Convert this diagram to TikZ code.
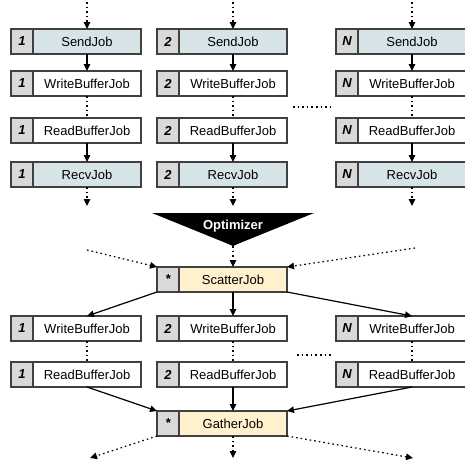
\documentclass[tikz,border=0pt]{standalone}
\usepackage{fontspec}
\setmainfont{Liberation Sans}
\usetikzlibrary{arrows.meta}

\definecolor{jobblue}{RGB}{214,228,232}
\definecolor{idgray}{RGB}{217,217,217}
\definecolor{jobcream}{RGB}{255,241,206}
\definecolor{edgegray}{RGB}{64,64,64}

\tikzset{every picture/.style={line width=1.2pt}}
\tikzset{
	idbox/.style={draw=edgegray, fill=idgray, minimum width=22pt, minimum height=25pt, inner sep=0pt, outer sep=0pt, anchor=north west, font=\fontsize{13}{15}\selectfont\bfseries\itshape},
	jobbox/.style={draw=edgegray, fill=white, minimum width=108pt, minimum height=25pt, inner sep=0pt, outer sep=0pt, anchor=north west, font=\fontsize{13}{15}\selectfont},
	flow/.style={-{Triangle[length=7pt,width=6.5pt]}},
	dots/.style={dash pattern={on 1.6pt off 3pt}},
}

\begin{document}
\begin{tikzpicture}[x=1pt,y=1pt,yscale=-1]
	\useasboundingbox (0,0) rectangle (465,459);
	
	% Jobs before the optimizer
	\draw (11,29) node [idbox] (send1id) {1};
	\draw (send1id.north east) node [jobbox, fill=jobblue] (send1) {SendJob};
	\draw (11,71) node [idbox] (wbuf1id) {1};
	\draw (wbuf1id.north east) node [jobbox] (wbuf1) {WriteBufferJob};
	\draw (11,118) node [idbox] (rbuf1id) {1};
	\draw (rbuf1id.north east) node [jobbox] (rbuf1) {ReadBufferJob};
	\draw (11,162) node [idbox] (recv1id) {1};
	\draw (recv1id.north east) node [jobbox, fill=jobblue] (recv1) {RecvJob};
	
	\draw (157,29) node [idbox] (send2id) {2};
	\draw (send2id.north east) node [jobbox, fill=jobblue] (send2) {SendJob};
	\draw (157,71) node [idbox] (wbuf2id) {2};
	\draw (wbuf2id.north east) node [jobbox] (wbuf2) {WriteBufferJob};
	\draw (157,118) node [idbox] (rbuf2id) {2};
	\draw (rbuf2id.north east) node [jobbox] (rbuf2) {ReadBufferJob};
	\draw (157,162) node [idbox] (recv2id) {2};
	\draw (recv2id.north east) node [jobbox, fill=jobblue] (recv2) {RecvJob};
	
	\draw (336,29) node [idbox] (sendNid) {N};
	\draw (sendNid.north east) node [jobbox, fill=jobblue] (sendN) {SendJob};
	\draw (336,71) node [idbox] (wbufNid) {N};
	\draw (wbufNid.north east) node [jobbox] (wbufN) {WriteBufferJob};
	\draw (336,118) node [idbox] (rbufNid) {N};
	\draw (rbufNid.north east) node [jobbox] (rbufN) {ReadBufferJob};
	\draw (336,162) node [idbox] (recvNid) {N};
	\draw (recvNid.north east) node [jobbox, fill=jobblue] (recvN) {RecvJob};
	
	% Free ends
	\coordinate (in1) at (87,2);
	\coordinate (in2) at (233,2);
	\coordinate (inN) at (412,2);
	\coordinate (out1) at (87,206);
	\coordinate (out2) at (233,206);
	\coordinate (outN) at (412,206);
	\coordinate (gapA) at (293,107);
	\coordinate (gapB) at (332,107);
	
	\draw [flow, dots] (in1) -- (send1);
	\draw [flow] (send1) -- (wbuf1);
	\draw [dots] (wbuf1) -- (rbuf1);
	\draw [flow] (rbuf1) -- (recv1);
	\draw [flow, dots] (recv1) -- (out1);
	\draw [flow, dots] (in2) -- (send2);
	\draw [flow] (send2) -- (wbuf2);
	\draw [dots] (wbuf2) -- (rbuf2);
	\draw [flow] (rbuf2) -- (recv2);
	\draw [flow, dots] (recv2) -- (out2);
	\draw [flow, dots] (inN) -- (sendN);
	\draw [flow] (sendN) -- (wbufN);
	\draw [dots] (wbufN) -- (rbufN);
	\draw [flow] (rbufN) -- (recvN);
	\draw [flow, dots] (recvN) -- (outN);
	\draw [dots] (gapA) -- (gapB);
	
	% Optimizer
	\fill [black] (152,213) -- (314,213) -- (240,243) -- (233,246) -- (226,243) -- cycle;
	\draw (233,226) node [inner sep=0pt, text=white, font=\fontsize{13}{15}\selectfont\bfseries] (opt) {Optimizer};
	\coordinate (optTip) at (233,246);
	
	% Jobs after the optimizer
	\draw (157,267) node [idbox] (scatid) {*};
	\draw (scatid.north east) node [jobbox, fill=jobcream] (scat) {ScatterJob};
	
	\draw (11,316) node [idbox] (owbuf1id) {1};
	\draw (owbuf1id.north east) node [jobbox] (owbuf1) {WriteBufferJob};
	\draw (11,362) node [idbox] (orbuf1id) {1};
	\draw (orbuf1id.north east) node [jobbox] (orbuf1) {ReadBufferJob};
	\draw (157,316) node [idbox] (owbuf2id) {2};
	\draw (owbuf2id.north east) node [jobbox] (owbuf2) {WriteBufferJob};
	\draw (157,362) node [idbox] (orbuf2id) {2};
	\draw (orbuf2id.north east) node [jobbox] (orbuf2) {ReadBufferJob};
	\draw (336,316) node [idbox] (owbufNid) {N};
	\draw (owbufNid.north east) node [jobbox] (owbufN) {WriteBufferJob};
	\draw (336,362) node [idbox] (orbufNid) {N};
	\draw (orbufNid.north east) node [jobbox] (orbufN) {ReadBufferJob};
	
	\draw (157,411) node [idbox] (gathid) {*};
	\draw (gathid.north east) node [jobbox, fill=jobcream] (gath) {GatherJob};
	
	% Free ends
	\coordinate (scinL) at (87,250);
	\coordinate (scinR) at (415,248);
	\coordinate (gaout1) at (90,458);
	\coordinate (gaout2) at (233,458);
	\coordinate (gaoutN) at (413,458);
	\coordinate (ogapA) at (297,355);
	\coordinate (ogapB) at (331,355);
	
	\draw [flow, dots] (optTip) -- (scat);
	\draw [flow, dots] (scinL) -- (scatid.north west);
	\draw [flow, dots] (scinR) -- (scat.north east);
	\draw [flow] (scatid.south west) -- (owbuf1.north);
	\draw [flow] (scat) -- (owbuf2);
	\draw [flow] (scat.south east) -- (owbufN.north);
	\draw [dots] (owbuf1) -- (orbuf1);
	\draw [dots] (owbuf2) -- (orbuf2);
	\draw [dots] (owbufN) -- (orbufN);
	\draw [dots] (ogapA) -- (ogapB);
	\draw [flow] (orbuf1.south) -- (gathid.north west);
	\draw [flow] (orbuf2) -- (gath);
	\draw [flow] (orbufN.south) -- (gath.north east);
	\draw [flow, dots] (gathid.south west) -- (gaout1);
	\draw [flow, dots] (gath) -- (gaout2);
	\draw [flow, dots] (gath.south east) -- (gaoutN);
	
\end{tikzpicture}
\end{document}
